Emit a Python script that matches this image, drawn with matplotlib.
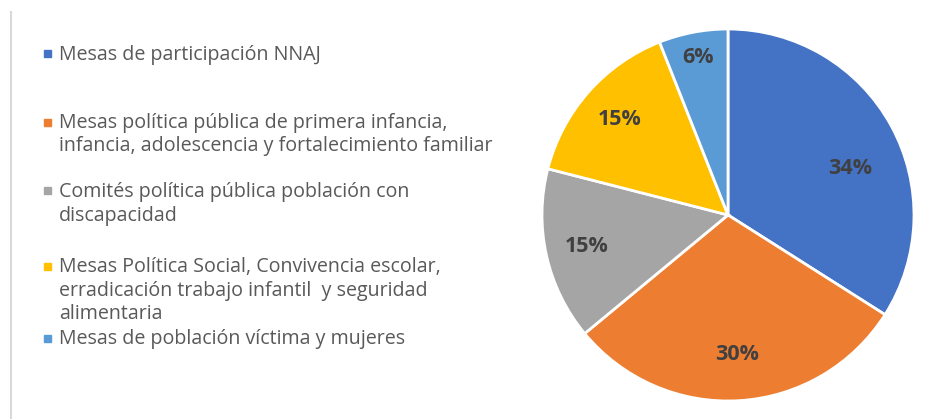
import matplotlib
matplotlib.use("Agg")
import matplotlib.pyplot as plt
import numpy as np

categories = [
    "Mesas de participación NNAJ",
    "Mesas política pública de primera infancia,\ninfancia, adolescencia y fortalecimiento familiar",
    "Comités política pública población con\ndiscapacidad",
    "Mesas Política Social, Convivencia escolar,\nerradicación trabajo infantil  y seguridad\nalimentaria",
    "Mesas de población víctima y mujeres",
]
values = [34, 30, 15, 15, 6]
pct_labels = ["34%", "30%", "15%", "15%", "6%"]
colors = ["#4472C4", "#ED7D31", "#A5A5A5", "#FFC000", "#5B9BD5"]

W, H = 951, 419
fig = plt.figure(figsize=(W / 100, H / 100), dpi=100)
fig.patch.set_facecolor("white")

# left border line
fig.add_artist(plt.Line2D([11 / W, 11 / W], [0, 1 - 12 / H], color="#D9D9D9", lw=1.5))

# pie axes
cx, cy, r = 728, 215, 186
ax = fig.add_axes([(cx - r) / W, (H - cy - r) / H, 2 * r / W, 2 * r / H])
wedges, _ = ax.pie(values, colors=colors, startangle=90, counterclock=False,
                   radius=1.0, wedgeprops=dict(edgecolor="white", linewidth=2))
ax.set_xlim(-1.0, 1.0)
ax.set_ylim(-1.0, 1.0)
ax.set_aspect("equal")
ax.axis("off")

label_r = [0.70, 0.75, 0.78, 0.78, 0.86]
label_dtheta = [-8, 0, 0, 0, 0]
for w, lab, lr, dt in zip(wedges, pct_labels, label_r, label_dtheta):
    th = np.deg2rad((w.theta1 + w.theta2) / 2 + dt)
    ax.text(lr * np.cos(th), lr * np.sin(th), lab, ha="center", va="center",
            fontsize=15.5, fontweight="bold", color="#404040", family="Open Sans")

# legend
entry_y = [55, 123, 192, 267, 339]  # first-line center y in px
line_h = 23.5
for cat, col, y in zip(categories, colors, entry_y):
    fig.add_artist(plt.Rectangle((44 / W, 1 - (y + 2.5) / H), 7 / W, 7 / H,
                                 color=col, transform=fig.transFigure))
    for i, line in enumerate(cat.split("\n")):
        fig.text(59 / W, 1 - (y + i * line_h) / H, line, ha="left", va="center",
                 fontsize=14.1, color="#595959", family="Open Sans")

fig.savefig("out.png", dpi=100, facecolor="white")
